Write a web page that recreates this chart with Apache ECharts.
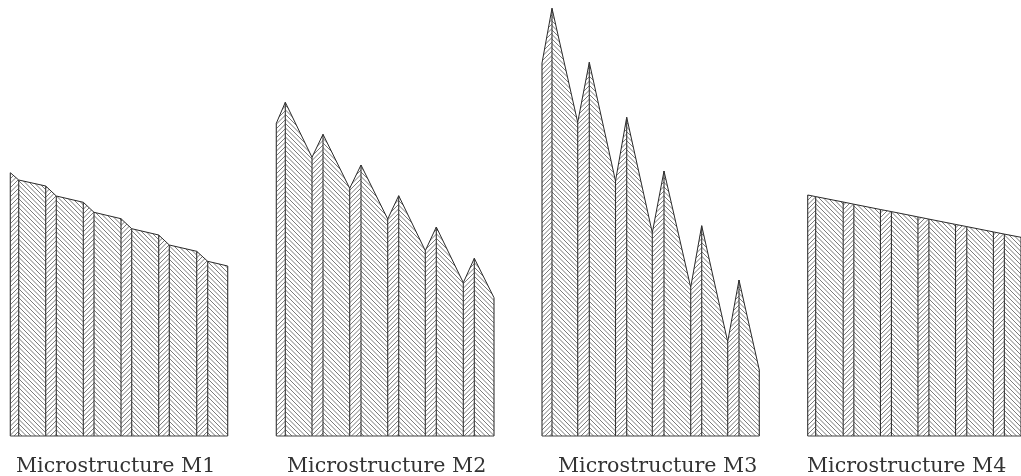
<!DOCTYPE html>
<html><head><meta charset="utf-8">
<style>html,body{margin:0;padding:0;background:#fff}#c{width:1021px;height:476px}</style>
<script src="https://cdn.jsdelivr.net/npm/echarts@6/dist/echarts.min.js"></script>
</head><body><div id="c"></div>
<script>
const labels = ["Microstructure M1","Microstructure M2","Microstructure M3","Microstructure M4"];
const m1X = [0,8.4,35.4,46,73,83.7,110.7,121.4,148.4,159,186.4,197.4,217.4];
const m1H = [263.3,256,250,240,233.7,223.7,217.3,207.3,201,191,184.7,174.7,170];
const m2X = [0,9,35.7,46.7,73.4,84.7,111.4,122.4,149,160,187,198,217.7];
const m2H = [312.7,333.7,278.7,301.7,247.7,271,217,240.3,185.3,209,153.3,177.7,138.3];
const m3X = [0,10,35.7,47.3,73.5,84.7,110.3,122,148.7,159.7,185.7,197,217.3];
const m3H = [373,427.7,313.7,373.7,255,318.7,203.3,265,148.7,210.3,94.3,156,66];
const m4X = [0,8,35.6,46.3,73,84,110.6,121.6,148.3,159.6,186.3,197.3,214];
const m4H = [241,239.4,234,231.8,226.5,224.4,219.1,216.9,211.6,209.4,204.1,201.9,198.7];
const xs = [m1X,m2X,m3X,m4X];
const hs = [m1H,m2H,m3H,m4H];
const lefts = [10.3,276.3,542,807.7];
const labelLefts = [16,287,558,807];

function hatch(dir){
  const t=9, gap=4.5, c=document.createElement('canvas');
  c.width=c.height=t;
  const g=c.getContext('2d');
  g.strokeStyle='#7a7a7a'; g.lineWidth=1;
  g.beginPath();
  for(let i=-3;i<=3;i++){
    if(dir>0){g.moveTo(i*gap,t);g.lineTo(i*gap+t,0);}
    else{g.moveTo(i*gap,0);g.lineTo(i*gap+t,t);}
  }
  g.stroke();
  return c;
}
const up=hatch(1), down=hatch(-1);
const BASE=436;
const grids=[],xAxes=[],yAxes=[],series=[];
xs.forEach((X,m)=>{
  const H=hs[m], W=X[X.length-1];
  grids.push({left:lefts[m],top:0,width:W,height:BASE});
  xAxes.push({type:'value',gridIndex:m,min:0,max:W,show:false});
  yAxes.push({type:'value',gridIndex:m,min:0,max:BASE,show:false});
  for(let i=0;i<X.length-1;i++){
    series.push({type:'line',xAxisIndex:m,yAxisIndex:m,silent:true,symbol:'none',clip:false,z:2,
      data:[[X[i],H[i]],[X[i+1],H[i+1]]],
      lineStyle:{color:'#2a2a2a',width:1},
      areaStyle:{color:{image:i%2?down:up,repeat:'repeat'},opacity:1}});
  }
  X.forEach((x,i)=>{
    series.push({type:'line',xAxisIndex:m,yAxisIndex:m,silent:true,symbol:'none',clip:false,z:3,
      data:[[x,0],[x,H[i]]],lineStyle:{color:'#333',width:1.1}});
  });
  series.push({type:'line',xAxisIndex:m,yAxisIndex:m,silent:true,symbol:'none',clip:false,z:3,
    data:[[0,0],[W,0]],lineStyle:{color:'#444',width:1.1}});
});
const titles=labels.map((t,m)=>({text:t,left:labelLefts[m],top:456,padding:0,
  textStyle:{fontFamily:'"DejaVu Serif",serif',fontWeight:'normal',fontSize:20.6,color:'#333'}}));
const chart=echarts.init(document.getElementById('c'),null,{renderer:'canvas'});
chart.setOption({animation:false,backgroundColor:'#fff',title:titles,grid:grids,xAxis:xAxes,yAxis:yAxes,series:series});
</script></body></html>
